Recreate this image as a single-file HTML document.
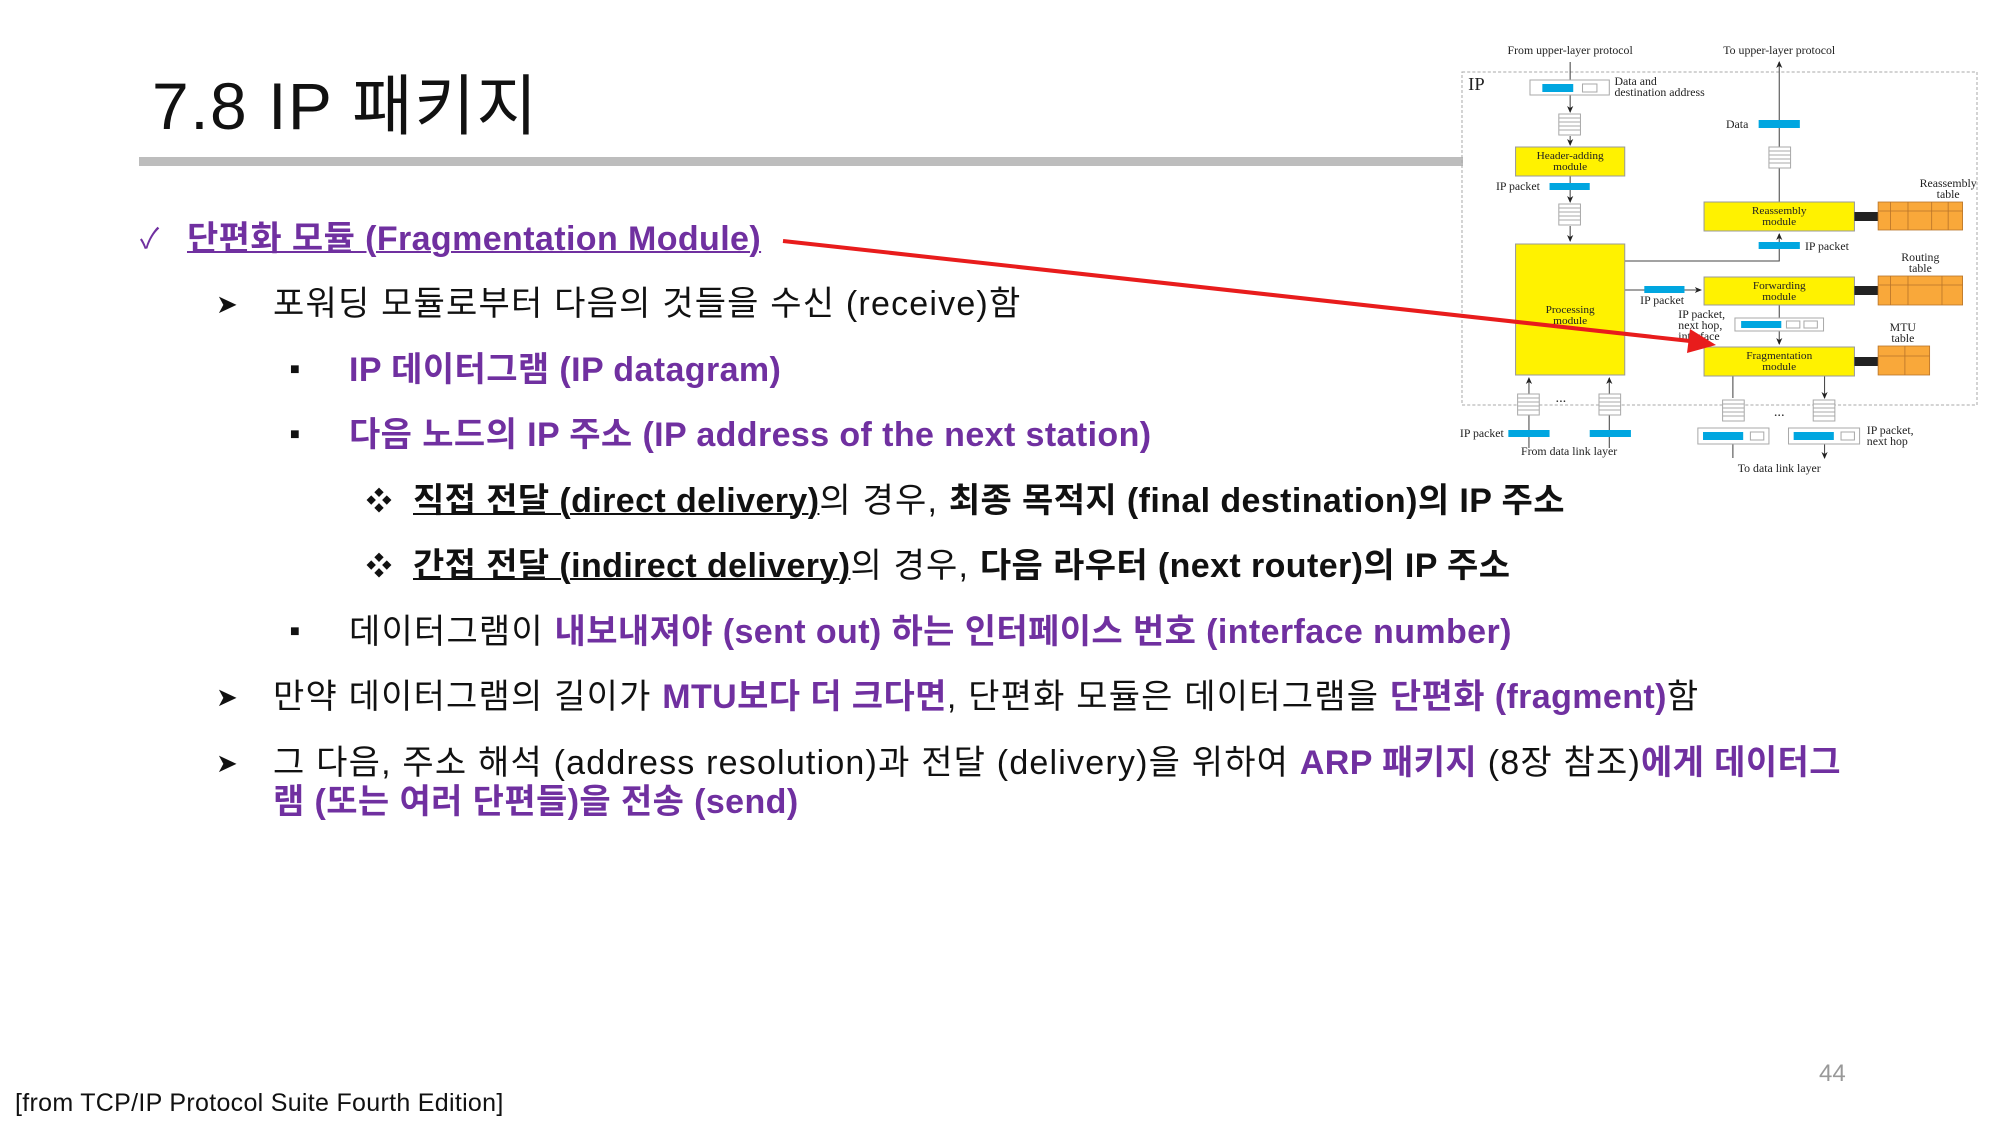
<!DOCTYPE html>
<html><head><meta charset="utf-8"><style>
body{margin:0;width:2000px;height:1125px;background:#fff;position:relative;overflow:hidden;font-family:"Liberation Sans","Noto Sans CJK KR",sans-serif;}
.t{position:absolute;white-space:nowrap;font-size:34px;line-height:40px;color:#111;letter-spacing:1.2px}
.p{color:#7030A0;font-weight:bold;letter-spacing:0.4px}
.b{font-weight:bold;letter-spacing:0.4px}
.u{text-decoration:underline;text-decoration-thickness:2px}
.m{position:absolute;font-size:28px;line-height:40px;color:#111}
svg text{font-family:"Liberation Serif",serif;}
</style></head><body>
<div class="t" style="left:152px;top:66px;font-size:66px;line-height:80px;letter-spacing:1.5px">7.8 IP 패키지</div>
<div style="position:absolute;left:139px;top:157px;width:1324px;height:9px;background:#bdbdbd"></div>

<div class="m" style="left:140px;top:219px;color:#7030A0">✓</div>
<div class="t p u" style="left:187px;top:219px">단편화 모듈 (Fragmentation Module)</div>

<div class="m" style="left:216px;top:284px;font-size:26px">➤</div>
<div class="t" style="left:273px;top:284px">포워딩 모듈로부터 다음의 것들을 수신 (receive)함</div>

<div class="m" style="left:290px;top:350px;font-size:16px">■</div>
<div class="t p" style="left:349px;top:350px">IP 데이터그램 (IP datagram)</div>

<div class="m" style="left:290px;top:415px;font-size:16px">■</div>
<div class="t p" style="left:349px;top:415px">다음 노드의 IP 주소 (IP address of the next station)</div>

<div class="m" style="left:366px;top:481px;font-size:26px">❖</div>
<div class="t" style="left:413px;top:481px"><span class="b u">직접 전달 (direct delivery)</span>의 경우, <span class="b">최종 목적지 (final destination)의 IP 주소</span></div>

<div class="m" style="left:366px;top:546px;font-size:26px">❖</div>
<div class="t" style="left:413px;top:546px"><span class="b u">간접 전달 (indirect delivery)</span>의 경우, <span class="b">다음 라우터 (next router)의 IP 주소</span></div>

<div class="m" style="left:290px;top:612px;font-size:16px">■</div>
<div class="t" style="left:349px;top:612px">데이터그램이 <span class="p">내보내져야 (sent out) 하는 인터페이스 번호 (interface number)</span></div>

<div class="m" style="left:216px;top:677px;font-size:26px">➤</div>
<div class="t" style="left:273px;top:677px">만약 데이터그램의 길이가 <span class="p">MTU보다 더 크다면</span>, 단편화 모듈은 데이터그램을 <span class="p">단편화 (fragment)</span>함</div>

<div class="m" style="left:216px;top:743px;font-size:26px">➤</div>
<div class="t" style="left:273px;top:743px">그 다음, 주소 해석 (address resolution)과 전달 (delivery)을 위하여 <span class="p">ARP 패키지</span> (8장 참조)<span class="p">에게 데이터그</span></div>
<div class="t p" style="left:273px;top:782px">램 (또는 여러 단편들)을 전송 (send)</div>

<div class="t" style="left:1819px;top:1054px;font-size:24px;color:#999;letter-spacing:0">44</div>
<div class="t" style="left:15px;top:1087px;font-size:25px;line-height:32px;letter-spacing:0.3px">[from TCP/IP Protocol Suite Fourth Edition]</div>

<svg style="position:absolute;left:0;top:0" width="2000" height="1125" viewBox="0 0 2000 1125">
<defs>
<marker id="a" markerWidth="8" markerHeight="8" refX="6" refY="4" orient="auto"><path d="M0,1 L7,4 L0,7 L2,4z" fill="#222"/></marker>
<g id="q"><rect x="0" y="0" width="21" height="21" fill="#fff" stroke="#aaa"/><path d="M0,4h21M0,8h21M0,12h21M0,16h21" stroke="#aaa"/></g>
</defs>
<g transform="translate(1462,0) scale(1.03,1) translate(-1462,0)">
<rect x="1462" y="72" width="500" height="333" fill="none" stroke="#aaa" stroke-dasharray="3,2"/>
<g font-size="11.5" fill="#222">
<text x="1567" y="54" text-anchor="middle">From upper-layer protocol</text>
<text x="1770" y="54" text-anchor="middle">To upper-layer protocol</text>
<text x="1468" y="90" font-size="18">IP</text>
<text x="1610" y="85">Data and</text><text x="1610" y="96">destination address</text>
<text x="1495" y="190">IP packet</text>
<text x="1740" y="128" text-anchor="end">Data</text>
<text x="1934" y="187" text-anchor="middle">Reassembly</text><text x="1934" y="198" text-anchor="middle">table</text>
<text x="1795" y="250">IP packet</text>
<text x="1907" y="261" text-anchor="middle">Routing</text><text x="1907" y="272" text-anchor="middle">table</text>
<text x="1635" y="304">IP packet</text>
<text x="1672" y="318">IP packet,</text><text x="1672" y="329">next hop,</text><text x="1672" y="340">interface</text>
<text x="1890" y="331" text-anchor="middle">MTU</text><text x="1890" y="342" text-anchor="middle">table</text>
<text x="1460" y="437">IP packet</text>
<text x="1566" y="455" text-anchor="middle">From data link layer</text>
<text x="1770" y="472" text-anchor="middle">To data link layer</text>
<text x="1855" y="434">IP packet,</text><text x="1855" y="445">next hop</text>
<text x="1558" y="402" text-anchor="middle" font-size="14">...</text>
<text x="1770" y="416" text-anchor="middle" font-size="14">...</text>
</g>
<g stroke="#444" stroke-width="1" fill="none">
<path d="M1567,62V80M1567,95V112" marker-end="url(#a)"/>
<path d="M1567,136V145" marker-end="url(#a)"/>
<path d="M1567,176V202" marker-end="url(#a)"/>
<path d="M1567,226V241" marker-end="url(#a)"/>
<path d="M1770,202V62" marker-end="url(#a)"/>
<path d="M1620,261H1770V234" marker-end="url(#a)"/>
<path d="M1620,290H1694" marker-end="url(#a)"/>
<path d="M1770,305V344" marker-end="url(#a)"/>
<path d="M1527,430V378" marker-end="url(#a)"/>
<path d="M1605,430V378" marker-end="url(#a)"/>
<path d="M1527,448V437M1605,448V437"/>
<path d="M1725,376V398M1814,376V398" marker-end="url(#a)"/>
<path d="M1725,444V458M1814,444V458" marker-end="url(#a)"/>
</g>
<rect x="1528" y="80" width="77" height="15" fill="#fff" stroke="#aaa"/>
<rect x="1540" y="84" width="30" height="8" fill="#00a6e0"/><rect x="1579" y="84" width="14" height="8" fill="#fff" stroke="#aaa"/>
<use href="#q" x="1556" y="114"/><use href="#q" x="1556" y="204"/><use href="#q" x="1760" y="147"/>
<use href="#q" x="1516" y="394"/><use href="#q" x="1595" y="394"/>
<use href="#q" x="1715" y="400"/><use href="#q" x="1803" y="400"/>
<g fill="#fff200" stroke="#999">
<rect x="1514" y="147" width="106" height="29"/>
<rect x="1514" y="244" width="106" height="131"/>
<rect x="1697" y="202" width="146" height="29"/>
<rect x="1697" y="277" width="146" height="28"/>
<rect x="1697" y="347" width="146" height="29"/>
</g>
<g font-size="11" fill="#222" text-anchor="middle">
<text x="1567" y="159">Header-adding</text><text x="1567" y="170">module</text>
<text x="1567" y="313">Processing</text><text x="1567" y="324">module</text>
<text x="1770" y="214">Reassembly</text><text x="1770" y="225">module</text>
<text x="1770" y="289">Forwarding</text><text x="1770" y="300">module</text>
<text x="1770" y="359">Fragmentation</text><text x="1770" y="370">module</text>
</g>
<g fill="#00a6e0">
<rect x="1547" y="183" width="39" height="7"/><rect x="1750" y="120" width="40" height="8"/>
<rect x="1750" y="242" width="40" height="7"/><rect x="1639" y="286" width="39" height="7"/>
<rect x="1507" y="430" width="40" height="7"/><rect x="1586" y="430" width="40" height="7"/>
</g>
<rect x="1727" y="318" width="86" height="13" fill="#fff" stroke="#aaa"/>
<rect x="1733" y="321" width="39" height="7" fill="#00a6e0"/><rect x="1777" y="321" width="13" height="7" fill="#fff" stroke="#aaa"/><rect x="1794" y="321" width="13" height="7" fill="#fff" stroke="#aaa"/>
<rect x="1691" y="428" width="69" height="16" fill="#fff" stroke="#aaa"/><rect x="1696" y="432" width="39" height="8" fill="#00a6e0"/><rect x="1742" y="432" width="13" height="8" fill="#fff" stroke="#aaa"/>
<rect x="1779" y="428" width="69" height="16" fill="#fff" stroke="#aaa"/><rect x="1784" y="432" width="39" height="8" fill="#00a6e0"/><rect x="1830" y="432" width="13" height="8" fill="#fff" stroke="#aaa"/>
<g fill="#222"><rect x="1843" y="212" width="23" height="9"/><rect x="1843" y="286" width="23" height="9"/><rect x="1843" y="357" width="23" height="9"/></g>
<g fill="#f9a83a" stroke="#b8742a" stroke-width="0.8">
<rect x="1866" y="202" width="82" height="28"/><path d="M1866,211H1948M1878,202V230M1895,202V230M1918,202V230M1934,202V230" fill="none"/>
<rect x="1866" y="276" width="82" height="29"/><path d="M1866,285H1948M1878,276V305M1895,276V305M1928,276V305" fill="none"/>
<rect x="1866" y="346" width="50" height="29"/><path d="M1866,356H1916M1892,346V375" fill="none"/>
</g>
</g>
<line x1="783" y1="241" x2="1690" y2="341" stroke="#e81c1c" stroke-width="4"/>
<path d="M1716,345 L1690,329 L1687,353z" fill="#e81c1c"/>
</svg>
</body></html>
